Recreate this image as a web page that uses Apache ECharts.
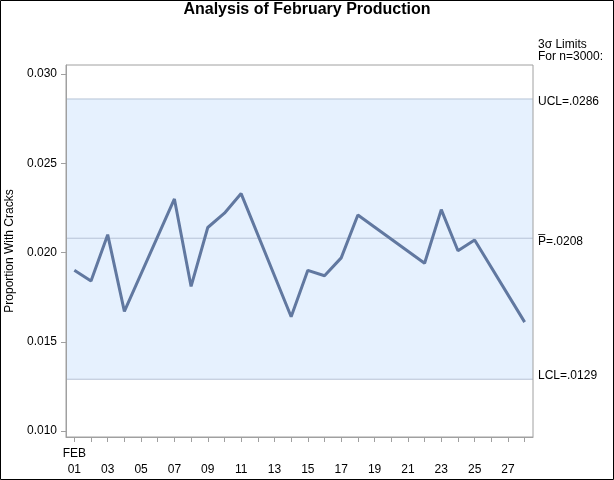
<!DOCTYPE html>
<html><head><meta charset="utf-8">
<script src="https://cdn.jsdelivr.net/npm/echarts@6/dist/echarts.min.js"></script>
<style>html,body{margin:0;padding:0;background:#fff}#c{width:614px;height:480px}</style>
</head><body><div id="c"></div>
<script>
const titleText = 'Analysis of February Production';
const yAxisTitle = 'Proportion With Cracks';
const days = [1, 2, 3, 4, 7, 8, 9, 10, 11, 14, 15, 16, 17, 18, 22, 23, 24, 25, 28];
const proportions = [0.0190, 0.0184, 0.0210, 0.0167, 0.0230, 0.0181, 0.0214, 0.0222, 0.0233, 0.0164, 0.0190, 0.0187, 0.0197, 0.0221, 0.0194, 0.0224, 0.0201, 0.0207, 0.0161];
const limitLabels = ['UCL=.0286', 'P\u0305=.0208', 'LCL=.0129'];
const limitValues = [0.0286, 0.0208, 0.0129];
const limitsHeader = ['3\u03c3 Limits', 'For n=3000:'];
const yTicks = [0.010, 0.015, 0.020, 0.025, 0.030];
const xTickDays = [1,2,3,4,5,6,7,8,9,10,11,12,13,14,15,16,17,18,19,20,21,22,23,24,25,26,27,28];
const xLabelDays = [1,3,5,7,9,11,13,15,17,19,21,23,25,27];
const monthLabel = 'FEB';
const xMin = 0.5, xMax = 28.5;

const FONT = "'Liberation Sans', Arial, sans-serif";
const chart = echarts.init(document.getElementById('c'), null, {renderer: 'canvas'});
const pad = d => (d < 10 ? '0' : '') + d;
const labelOffsets = [[0, 3], [0, 3], [0, -4]];

const limitSeries = limitValues.map((v, i) => ({
  type: 'line',
  data: [[xMin, v], [xMax, v]],
  symbol: 'none', silent: true, z: 3,
  lineStyle: {color: '#b6c3d6', width: 1},
  endLabel: {show: true, distance: 5, offset: labelOffsets[i], color: '#000', fontSize: 12, fontFamily: FONT, formatter: () => limitLabels[i]},
  ...(i === 0 ? {markArea: {silent: true, itemStyle: {color: '#e6f1fe'}, data: [[{yAxis: limitValues[2]}, {yAxis: limitValues[0]}]]}} : {})
}));

chart.setOption({
  animation: false,
  backgroundColor: '#fff',
  textStyle: {fontFamily: FONT},
  title: {
    text: titleText, left: 'center', top: -3,
    textStyle: {fontFamily: FONT, fontSize: 16, fontWeight: 'bold', color: '#000'}
  },
  grid: {left: 66, right: 81, top: 65, bottom: 43, containLabel: false, outerBoundsMode: 'none', show: true, z: 10, borderColor: '#a0a0a0', borderWidth: 1, backgroundColor: 'transparent'},
  xAxis: {
    type: 'value', min: xMin, max: xMax, z: 10,
    axisLine: {show: true, lineStyle: {color: '#a0a0a0'}},
    axisTick: {show: true, length: 5, customValues: xTickDays, lineStyle: {color: '#a0a0a0'}},
    splitLine: {show: false},
    axisLabel: {
      customValues: xLabelDays, margin: 9, color: '#000', fontSize: 12, fontFamily: FONT, lineHeight: 16,
      formatter: v => (v === 1 ? monthLabel : ' ') + '\n' + pad(v)
    }
  },
  yAxis: {
    type: 'value', min: 0.009664, max: 0.030504, z: 10,
    name: yAxisTitle, nameLocation: 'middle', nameGap: 47, nameRotate: 90,
    nameTextStyle: {fontFamily: FONT, fontSize: 12, color: '#000'},
    axisLine: {show: true, lineStyle: {color: '#a0a0a0'}},
    axisTick: {show: true, length: 5, customValues: yTicks, lineStyle: {color: '#a0a0a0'}},
    splitLine: {show: false},
    axisLabel: {customValues: yTicks, margin: 9, color: '#000', fontSize: 12, fontFamily: FONT, formatter: v => v.toFixed(3)}
  },
  graphic: [
    {type: 'text', left: 538, top: 39, style: {text: limitsHeader.join('\n'), font: '12px ' + FONT, fill: '#000', lineHeight: 12}},
    {type: 'rect', shape: {x: 0.5, y: 0.5, width: 613, height: 479}, style: {fill: 'none', stroke: '#000', lineWidth: 1}, silent: true}
  ],
  series: limitSeries.concat([{
    type: 'line',
    data: days.map((d, i) => [d, proportions[i]]),
    symbol: 'none', silent: true,
    lineStyle: {color: '#6178a0', width: 3},
    z: 5
  }])
});
</script>
</body></html>
